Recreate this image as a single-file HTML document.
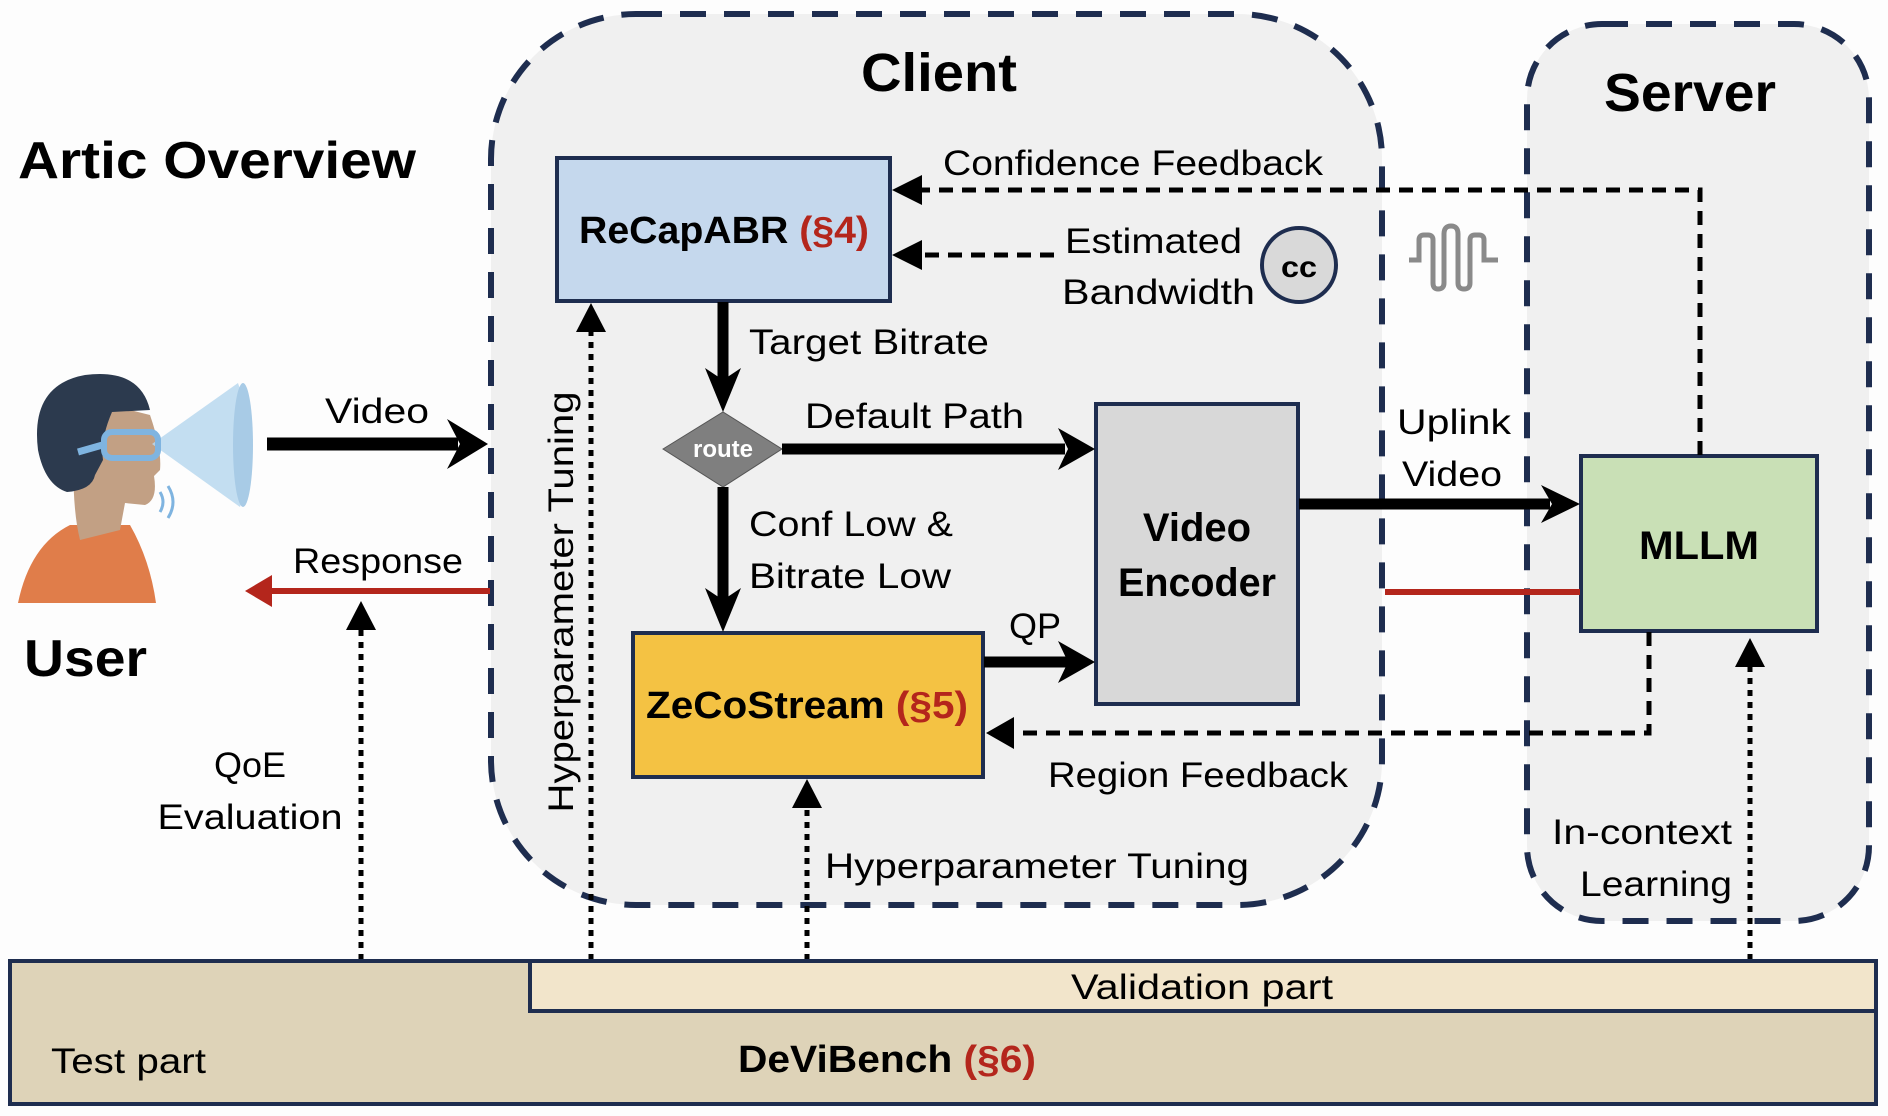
<!DOCTYPE html>
<html><head><meta charset="utf-8"><style>
html,body{margin:0;padding:0;background:#fff}
svg{display:block}
text{font-family:"Liberation Sans",sans-serif;fill:#000}
.b{font-weight:bold}
</style></head><body>
<svg width="1888" height="1116" viewBox="0 0 1888 1116" xmlns="http://www.w3.org/2000/svg">
<rect x="0" y="0" width="1888" height="1116" fill="#fdfdfd"/>
<!-- client & server containers -->
<rect x="491" y="14" width="891" height="891" rx="145" fill="#f0f0f0" stroke="#1e2d4f" stroke-width="6" stroke-dasharray="26,18"/>
<rect x="1527" y="24" width="342" height="897" rx="75" fill="#f0f0f0" stroke="#1e2d4f" stroke-width="6" stroke-dasharray="26,18"/>

<text x="18" y="178" font-size="52" class="b" textLength="398" lengthAdjust="spacingAndGlyphs">Artic Overview</text>
<text x="939" y="91" font-size="54" class="b" text-anchor="middle" textLength="156" lengthAdjust="spacingAndGlyphs">Client</text>
<text x="1690" y="111" font-size="54" class="b" text-anchor="middle" textLength="172" lengthAdjust="spacingAndGlyphs">Server</text>

<!-- boxes -->
<rect x="557" y="158" width="333" height="143" fill="#c5d8ed" stroke="#1e2d4f" stroke-width="4"/>
<text x="579" y="243" font-size="38" class="b" textLength="290" lengthAdjust="spacingAndGlyphs">ReCapABR <tspan fill="#b4261c">(§4)</tspan></text>

<rect x="1096" y="404" width="202" height="300" fill="#d8d8d8" stroke="#1e2d4f" stroke-width="4"/>
<text x="1197" y="541" font-size="40" class="b" text-anchor="middle">Video</text>
<text x="1197" y="596" font-size="40" class="b" text-anchor="middle" textLength="158" lengthAdjust="spacingAndGlyphs">Encoder</text>

<rect x="633" y="633" width="350" height="144" fill="#f4c243" stroke="#1e2d4f" stroke-width="4"/>
<text x="646" y="718" font-size="38" class="b" textLength="322" lengthAdjust="spacingAndGlyphs">ZeCoStream <tspan fill="#b4261c">(§5)</tspan></text>

<rect x="1581" y="456" width="236" height="175" fill="#c9e0b6" stroke="#1e2d4f" stroke-width="4"/>
<text x="1699" y="559" font-size="40" class="b" text-anchor="middle" textLength="120" lengthAdjust="spacingAndGlyphs">MLLM</text>

<!-- route diamond -->
<polygon points="663,449 723,412 782,449 723,487" fill="#7f7f7f" stroke="#555" stroke-width="1"/>
<text x="723" y="457" font-size="24" class="b" text-anchor="middle" fill="#fff" style="fill:#fff">route</text>

<!-- solid arrows -->
<g stroke="#000" stroke-width="11" fill="none">
<line x1="723" y1="302" x2="723" y2="380"/>
<line x1="723" y1="487" x2="723" y2="600"/>
<line x1="782" y1="449" x2="1065" y2="449"/>
<line x1="984" y1="662" x2="1068" y2="662"/>
<line x1="1299" y1="504" x2="1550" y2="504"/>
<line x1="267" y1="444" x2="458" y2="444" stroke-width="13"/>
</g>
<g fill="#000">
<polygon points="723,412 705,368 723,380 741,368"/>
<polygon points="723,632 705,588 723,600 741,588"/>
<polygon points="1095,449 1058,428 1068,449 1058,470"/>
<polygon points="1095,662 1058,641 1068,662 1058,683"/>
<polygon points="1580,504 1541,485 1552,504 1541,523"/>
<polygon points="488,444 447,419 460,444 447,469"/>
</g>

<!-- red response -->
<line x1="270" y1="591" x2="490" y2="591" stroke="#b4261c" stroke-width="6"/>
<polygon points="245,591 272,575 272,607" fill="#b4261c"/>
<line x1="1385" y1="592" x2="1580" y2="592" stroke="#b4261c" stroke-width="6"/>

<!-- dashed feedback -->
<g stroke="#000" stroke-width="5" fill="none" stroke-dasharray="14,9">
<polyline points="1700,455 1700,190 918,190"/>
<line x1="1054" y1="255" x2="918" y2="255"/>
<polyline points="1649,632 1649,733 1012,733"/>
</g>
<g fill="#000">
<polygon points="892,190 922,175 922,205"/>
<polygon points="892,255 922,240 922,270"/>
<polygon points="986,733 1014,717 1014,749"/>
</g>

<!-- dotted -->
<g stroke="#000" stroke-width="5" fill="none" stroke-dasharray="6,6">
<line x1="361" y1="960" x2="361" y2="625"/>
<line x1="591" y1="960" x2="591" y2="328"/>
<line x1="807" y1="960" x2="807" y2="805"/>
<line x1="1750" y1="960" x2="1750" y2="662"/>
</g>
<g fill="#000">
<polygon points="361,601 346,630 376,630"/>
<polygon points="591,303 576,332 606,332"/>
<polygon points="807,779 792,808 822,808"/>
<polygon points="1750,638 1735,667 1765,667"/>
</g>

<!-- cc circle -->
<circle cx="1299" cy="265" r="37" fill="#d9d9d9" stroke="#1e2d4f" stroke-width="4"/>
<text x="1299" y="277" font-size="30" class="b" text-anchor="middle" textLength="36" lengthAdjust="spacingAndGlyphs">cc</text>
<!-- squiggle -->
<path d="M1409,260 H1419 V240 Q1419,235 1424,235 H1428 Q1433,235 1433,240 V283 Q1433,289 1438,289 Q1444,289 1444,283 V234 Q1444,226 1451,226 Q1458,226 1458,234 V283 Q1458,289 1464,289 Q1470,289 1470,283 V240 Q1470,235 1475,235 H1479 Q1484,235 1484,240 V260 H1498" fill="none" stroke="#8a8a8a" stroke-width="5"/>

<!-- labels -->
<g font-size="35">
<text x="943" y="175" textLength="380" lengthAdjust="spacingAndGlyphs">Confidence Feedback</text>
<text x="1065" y="253" textLength="177" lengthAdjust="spacingAndGlyphs">Estimated</text>
<text x="1062" y="304" textLength="193" lengthAdjust="spacingAndGlyphs">Bandwidth</text>
<text x="749" y="354" textLength="240" lengthAdjust="spacingAndGlyphs">Target Bitrate</text>
<text x="805" y="428" textLength="219" lengthAdjust="spacingAndGlyphs">Default Path</text>
<text x="749" y="536" textLength="204" lengthAdjust="spacingAndGlyphs">Conf Low &amp;</text>
<text x="749" y="588" textLength="202" lengthAdjust="spacingAndGlyphs">Bitrate Low</text>
<text x="1009" y="638" textLength="52" lengthAdjust="spacingAndGlyphs">QP</text>
<text x="1397" y="434" textLength="114" lengthAdjust="spacingAndGlyphs">Uplink</text>
<text x="1402" y="486" textLength="100" lengthAdjust="spacingAndGlyphs">Video</text>
<text x="1048" y="787" textLength="300" lengthAdjust="spacingAndGlyphs">Region Feedback</text>
<text x="825" y="878" textLength="424" lengthAdjust="spacingAndGlyphs">Hyperparameter Tuning</text>
<text x="1732" y="844" text-anchor="end" textLength="180" lengthAdjust="spacingAndGlyphs">In-context</text>
<text x="1732" y="896" text-anchor="end" textLength="152" lengthAdjust="spacingAndGlyphs">Learning</text>
<text x="325" y="423" textLength="104" lengthAdjust="spacingAndGlyphs">Video</text>
<text x="293" y="573" textLength="170" lengthAdjust="spacingAndGlyphs">Response</text>
<text x="250" y="777" text-anchor="middle" textLength="72" lengthAdjust="spacingAndGlyphs">QoE</text>
<text x="250" y="829" text-anchor="middle" textLength="185" lengthAdjust="spacingAndGlyphs">Evaluation</text>
<text transform="translate(573,602) rotate(-90)" text-anchor="middle" textLength="421" lengthAdjust="spacingAndGlyphs">Hyperparameter Tuning</text>
</g>
<text x="24" y="676" font-size="52" class="b" textLength="123" lengthAdjust="spacingAndGlyphs">User</text>

<!-- DeViBench -->
<rect x="10" y="961" width="1866" height="143" fill="#ded3b8" stroke="#1e2d4f" stroke-width="4"/>
<rect x="530" y="961" width="1346" height="50" fill="#f2e5cb" stroke="#1e2d4f" stroke-width="4"/>
<text x="1202" y="999" font-size="35" text-anchor="middle" textLength="262" lengthAdjust="spacingAndGlyphs">Validation part</text>
<text x="51" y="1073" font-size="35" textLength="155" lengthAdjust="spacingAndGlyphs">Test part</text>
<text x="738" y="1072" font-size="38" class="b" textLength="298" lengthAdjust="spacingAndGlyphs">DeViBench <tspan fill="#b4261c">(§6)</tspan></text>

<!-- user figure -->
<path d="M18,603 Q30,545 70,525 L130,525 Q150,560 156,603 Z" fill="#e07d4a"/>
<path d="M75,420 Q80,400 110,405 L150,415 Q162,450 160,470 L154,476 Q158,500 145,505 L125,503 L120,530 L80,540 Q70,500 75,420 Z" fill="#c2a084"/>
<path d="M38,450 Q30,385 85,375 Q140,368 150,410 L112,412 Q100,440 103,460 L95,475 Q92,490 67,492 Q45,485 38,450 Z" fill="#2c3a4e"/>
<path d="M152,444 L238,383 Q260,445 240,507 Z" fill="#b9d8ee" opacity="0.85"/>
<ellipse cx="243" cy="445" rx="10" ry="62" fill="#a8cbe6"/>
<rect x="104" y="432" width="54" height="26" rx="8" fill="none" stroke="#7fb4e0" stroke-width="6"/>
<line x1="78" y1="452" x2="106" y2="444" stroke="#7fb4e0" stroke-width="7"/>
<path d="M160,492 Q166,502 160,512 M168,486 Q178,502 168,518" stroke="#7fb4e0" stroke-width="3" fill="none"/>
</svg>
</body></html>
